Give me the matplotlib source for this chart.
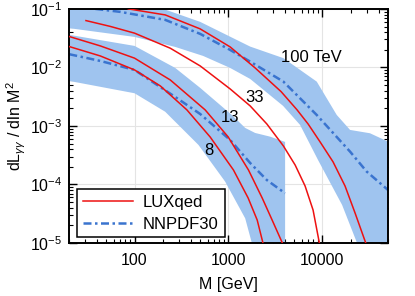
import matplotlib
matplotlib.use("Agg")
import matplotlib.pyplot as plt
from matplotlib.ticker import LogLocator, NullFormatter, FixedLocator, FixedFormatter

plt.rcParams['font.family'] = ['Liberation Sans', 'DejaVu Sans']
plt.rcParams['mathtext.fontset'] = 'custom'
plt.rcParams['mathtext.rm'] = 'Liberation Sans'
plt.rcParams['mathtext.it'] = 'Liberation Sans:italic'

# ---- LUXqed curves (M in GeV, dL/dlnM^2) ----
lux8_M = [20.2, 43.2, 100, 188, 361, 638, 1130, 1620, 2023, 2330]
lux8_L = [0.0227, 0.0157, 0.00906, 0.00483, 0.00188, 6.49e-4, 1.77e-4, 5.88e-5, 2.47e-5, 1.0e-5]

lux13_M = [20.2, 43.2, 100, 240, 565, 993, 1633, 2286, 2917, 3750]
lux13_L = [0.0337, 0.0233, 0.0144, 0.00611, 0.00188, 6.49e-4, 1.77e-4, 5.88e-5, 2.47e-5, 1.0e-5]

lux33_M = [30.4, 55.1, 100, 240, 500, 1042, 1702, 2564, 3846, 5129, 6546, 7960, 9290]
lux33_L = [0.0631, 0.0502, 0.0385, 0.0213, 0.0106, 0.00429, 0.0022, 0.00108, 4.55e-4,
           2.15e-4, 9.42e-5, 3.66e-5, 1.0e-5]

lux100_M = [85.8, 212, 500, 1042, 1923, 3640, 5380, 7050, 9460, 13000, 17430, 22280, 28960]
lux100_L = [0.1, 0.0789, 0.0455, 0.0224, 0.0098, 0.00385, 0.00188, 0.00108, 5.33e-4,
            2.43e-4, 9.42e-5, 3.26e-5, 1.0e-5]

# ---- NNPDF30 central curves ----
nn13_M = [20.2, 43.2, 100, 271, 500, 1042, 1702, 2564, 4010]
nn13_L = [0.0168, 0.0129, 0.00906, 0.00313, 0.0016, 5.77e-4, 2.33e-4, 1.19e-4, 7.08e-5]

nn100_M = [38.2, 70.5, 212, 500, 1042, 1702, 3846, 8710, 19720, 29650, 50000]
nn100_L = [0.1, 0.0889, 0.0649, 0.0374, 0.0199, 0.01256, 0.00572, 0.00154, 3.64e-4,
           1.66e-4, 8.05e-5]

# ---- NNPDF30 uncertainty bands ----
band13_up_M = [20.2, 100, 271, 500, 1086, 1507, 1923, 2780, 4010]
band13_up_L = [0.036, 0.0233, 0.0098, 0.00447, 0.00154, 9.25e-4, 7.59e-4, 6.56e-4, 5.33e-4]
band13_lo_M = [20.2, 100, 212, 480, 922, 1507, 1775, 4010]
band13_lo_L = [0.00587, 0.00362, 0.00175, 4.73e-4, 1.12e-4, 2.64e-5, 1.0e-5, 1.0e-5]

band100_up_M = [20.2, 100, 202, 500, 1702, 3846, 8710, 14220, 19720, 32140, 50000]
band100_up_L = [0.2, 0.13, 0.1, 0.060, 0.0227, 0.0144, 0.00572, 0.00154, 8.55e-4, 7.5e-4, 5.4e-4]
band100_lo_M = [20.2, 100, 271, 538, 1042, 1702, 3820, 5790, 8990, 16220, 23400, 50000]
band100_lo_L = [0.0468, 0.0332, 0.0224, 0.0157, 0.0098, 0.00636, 0.0022, 0.00104, 2.62e-4,
                4.47e-5, 1.0e-5, 1.0e-5]

# ---- labels ----
lab_text = ["100 TeV", "33", "13", "8"]
lab_M = [7590, 1875, 1031, 624]
lab_L = [0.0145, 0.00307, 0.0014, 3.74e-4]

band_color = '#9fc4ef'
nn_color = '#3a74cf'
lux_color = '#ee1111'

fig = plt.figure(figsize=(4.15, 2.96), dpi=100)
ax = fig.add_axes([0.166, 0.179, 0.769, 0.791])

ax.set_xscale('log')
ax.set_yscale('log')

for upM, upL, loM, loL in [(band13_up_M, band13_up_L, band13_lo_M, band13_lo_L),
                           (band100_up_M, band100_up_L, band100_lo_M, band100_lo_L)]:
    xs = list(upM) + list(loM[::-1])
    ys = list(upL) + list(loL[::-1])
    ax.fill(xs, ys, color=band_color, lw=0, zorder=1)

for M, L in [(lux8_M, lux8_L), (lux13_M, lux13_L), (lux33_M, lux33_L), (lux100_M, lux100_L)]:
    ax.plot(M, L, color=lux_color, lw=1.1, zorder=3)
ax.plot([], [], color=lux_color, lw=1.1, label='LUXqed')

for i, (M, L) in enumerate([(nn13_M, nn13_L), (nn100_M, nn100_L)]):
    ax.plot(M, L, color=nn_color, lw=1.8, ls=(0, (3.2, 1.4, 1.0, 1.4)), zorder=2,
            label='NNPDF30' if i == 0 else None)

for t, m, l in zip(lab_text, lab_M, lab_L):
    ax.text(m, l, t, fontsize=12, ha='center', va='center', zorder=4)

ax.set_xlim(20, 50000)
ax.set_ylim(1e-5, 1e-1)

ax.grid(True, which='major', color='#e4e4e4', lw=0.8, zorder=0)
ax.set_axisbelow(True)

ax.xaxis.set_major_locator(FixedLocator([100, 1000, 10000]))
ax.xaxis.set_major_formatter(FixedFormatter(['100', '1000', '10000']))
ax.xaxis.set_minor_locator(LogLocator(base=10, subs=range(2, 10), numticks=20))
ax.xaxis.set_minor_formatter(NullFormatter())
ax.yaxis.set_minor_locator(LogLocator(base=10, subs=range(2, 10), numticks=20))
ax.yaxis.set_minor_formatter(NullFormatter())

ax.tick_params(which='both', direction='in', top=True, right=True, labelsize=11.5)
ax.tick_params(which='major', length=5.5, width=1)
ax.tick_params(axis='x', which='major', pad=7)
ax.tick_params(axis='y', which='major', pad=5)
ax.tick_params(which='minor', length=3, width=0.8)
for s in ax.spines.values():
    s.set_linewidth(1.4)

ax.set_xlabel('M [GeV]', fontsize=11.5, labelpad=7)
ax.set_ylabel(r'dL$_{\gamma\gamma}$ / dln M$^2$', fontsize=11.5, labelpad=1)

leg = ax.legend(loc='lower left', bbox_to_anchor=(0.026, 0.024), fontsize=12,
                frameon=True, fancybox=False, edgecolor='black', framealpha=1,
                handlelength=3.0, handletextpad=0.6, borderpad=0.35, labelspacing=0.4,
                borderaxespad=0)
leg.get_frame().set_linewidth(1.1)
leg.set_zorder(5)

fig.savefig('out.png', dpi=100)
